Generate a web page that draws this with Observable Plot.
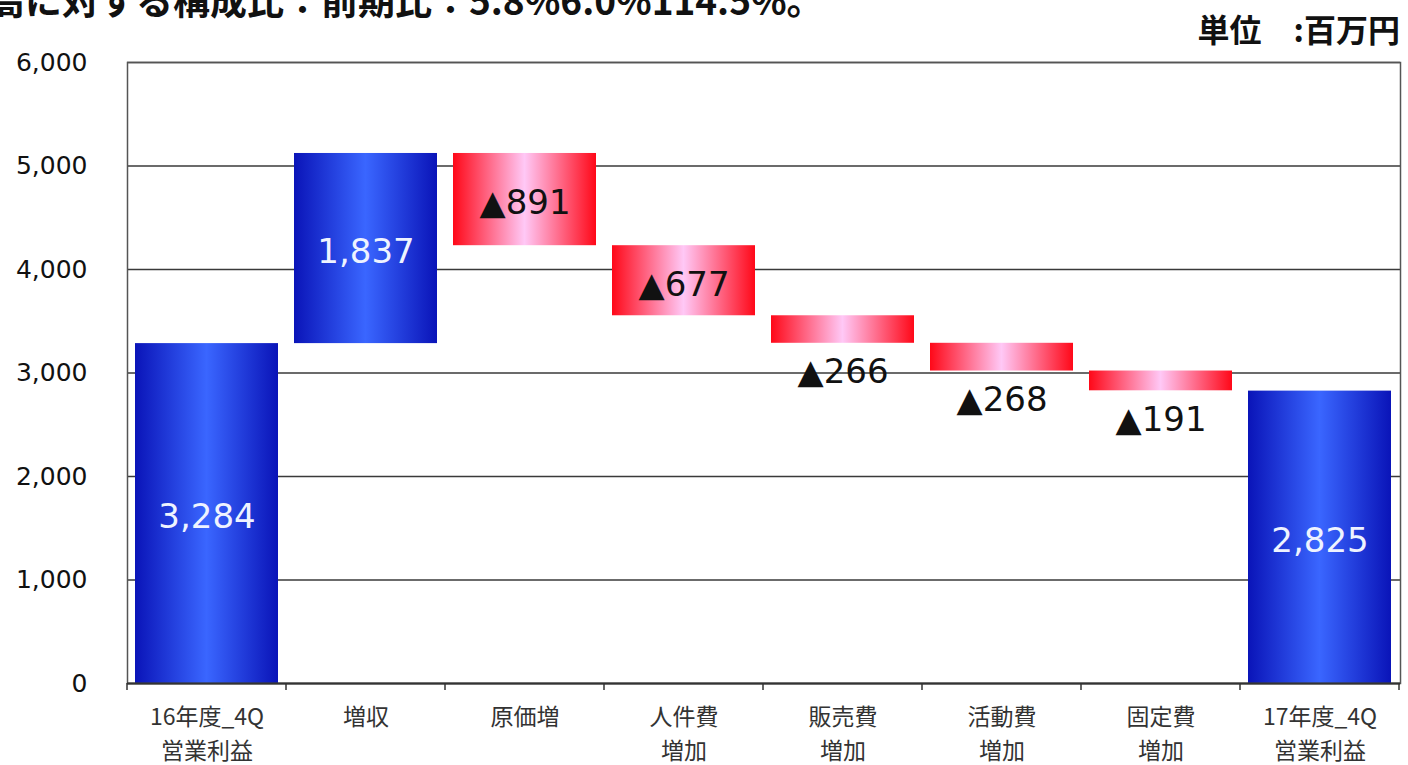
<!DOCTYPE html>
<html>
<head>
<meta charset="utf-8">
<script src="https://cdn.jsdelivr.net/npm/d3@7"></script>
<script src="https://cdn.jsdelivr.net/npm/@observablehq/plot@0.6"></script>
<style>
  html, body { margin: 0; padding: 0; background: #fff; }
  #wrap { position: relative; width: 1408px; height: 765px; overflow: hidden; }
  #title { position: absolute; left: -12px; top: -28px; font: bold 37px "Noto Sans CJK JP", sans-serif; color: #111; white-space: nowrap; }
  #unit { position: absolute; right: 8px; top: 11px; font: bold 32px "Noto Sans CJK JP", sans-serif; color: #111; white-space: pre; line-height: 1.1; }
  #chart { position: absolute; left: 0; top: 0; }
</style>
</head>
<body>
<div id="wrap">
  <div id="chart"></div>
  <div id="title">高に対する構成比：前期比：5.8%6.0%114.5%。</div>
  <div id="unit">単位　:百万円</div>
</div>
<script>
const categories = ["16年度_4Q\n営業利益", "増収", "原価増", "人件費\n増加", "販売費\n増加", "活動費\n増加", "固定費\n増加", "17年度_4Q\n営業利益"];
const values = [3284, 1837, -891, -677, -266, -268, -191, 2825];
const kinds = ["total", "up", "down", "down", "down", "down", "down", "total"];
const labels = ["3,284", "1,837", "▲891", "▲677", "▲266", "▲268", "▲191", "2,825"];
const yTicks = [0, 1000, 2000, 3000, 4000, 5000, 6000];

// build waterfall table
let running = 0;
const data = categories.map((cat, i) => {
  const v = values[i];
  let y1, y2;
  if (kinds[i] === "total") { y1 = 0; y2 = v; running = v; }
  else { y1 = running; y2 = running + v; running = y2; }
  return { cat, v, kind: kinds[i], label: labels[i], y1, y2, mid: (y1 + y2) / 2, low: Math.min(y1, y2) };
});
const blues = data.filter(d => d.kind !== "down");
const reds = data.filter(d => d.kind === "down");
const inside = data.filter(d => Math.abs(d.v) >= 300);
const below = data.filter(d => Math.abs(d.v) < 300);

// boundary tick marks between categories, drawn from the x scale
const bandTicks = (index, scales, values, dims) => {
  const x = scales.x;
  const step = x.step ? x.step() : x.bandwidth() / 0.9;
  const g = d3.create("svg:g");
  const y0 = dims.height - dims.marginBottom;
  const starts = categories.map(c => x(c) - (step - x.bandwidth()) / 2);
  starts.push(starts[starts.length - 1] + step);
  for (const s of starts) {
    g.append("line").attr("x1", s).attr("x2", s).attr("y1", y0).attr("y2", y0 + 7)
      .attr("stroke", "#333").attr("stroke-width", 1.5);
  }
  return g.node();
};

const plot = Plot.plot({
  width: 1408,
  height: 765,
  marginLeft: 127,
  marginRight: 8,
  marginTop: 62,
  marginBottom: 82,
  style: { fontFamily: "DejaVu Sans, sans-serif", background: "transparent" },
  x: { domain: categories, paddingInner: 0.1, paddingOuter: 0.05, label: null },
  y: { domain: [0, 6000], label: null },
  marks: [
    Plot.ruleY(yTicks, { stroke: "#3a3a3a", strokeWidth: 1.6 }),
    Plot.barY(blues, { x: "cat", y1: "y1", y2: "y2", fill: "url(#gBlue)" }),
    Plot.barY(reds, { x: "cat", y1: "y1", y2: "y2", fill: "url(#gRed)" }),
    Plot.frame({ stroke: "#555", strokeWidth: 1.5 }),
    Plot.ruleY([0], { stroke: "#333", strokeWidth: 2 }),
    Plot.axisY({ ticks: yTicks, tickSize: 0, tickPadding: 40, fontSize: 25, tickFormat: d3.format(","), fill: "#111", fontFamily: "DejaVu Sans", label: null }),
    Plot.axisX({ tickSize: 0, tickPadding: 18, fontSize: 23, lineHeight: 1.45, fill: "#333", fontFamily: "Noto Sans CJK JP", label: null }),
    bandTicks,
    Plot.text(inside, { x: "cat", y: "mid", text: "label", fontSize: 34, fontFamily: "DejaVu Sans",
      fill: d => d.kind === "down" ? "#111" : "#eef3ff", dy: 4 }),
    Plot.text(below, { x: "cat", y: "low", text: "label", fontSize: 34, fontFamily: "DejaVu Sans", fill: "#111", dy: 29 })
  ]
});

// gradient definitions
const svg = d3.select(plot);
const defs = svg.insert("defs", ":first-child");
const gb = defs.append("linearGradient").attr("id", "gBlue").attr("x1", "0%").attr("x2", "100%").attr("y1", "0%").attr("y2", "0%");
gb.append("stop").attr("offset", "0%").attr("stop-color", "#0a14b8");
gb.append("stop").attr("offset", "50%").attr("stop-color", "#3a66ff");
gb.append("stop").attr("offset", "100%").attr("stop-color", "#0a14b8");
const gr = defs.append("linearGradient").attr("id", "gRed").attr("x1", "0%").attr("x2", "100%").attr("y1", "0%").attr("y2", "0%");
gr.append("stop").attr("offset", "0%").attr("stop-color", "#ff0818");
gr.append("stop").attr("offset", "50%").attr("stop-color", "#ffc8f6");
gr.append("stop").attr("offset", "100%").attr("stop-color", "#ff0818");

document.getElementById("chart").appendChild(plot);
</script>
</body>
</html>
